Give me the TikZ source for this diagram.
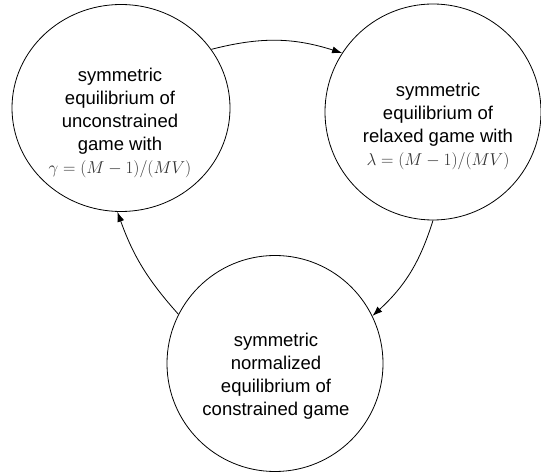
\documentclass[tikz,border=0pt]{standalone}
\usepackage{fontspec}
\setmainfont{Liberation Sans}
\usetikzlibrary{arrows.meta,shapes.geometric}
\begin{document}
\begin{tikzpicture}[>={Latex[length=10bp,width=7bp]},line join=bevel,line width=0.8bp,
  state/.style={draw,ellipse,inner sep=0pt},
  statetext/.style={align=center,inner sep=0pt,font=\fontsize{18.5bp}{23bp}\selectfont}]
\useasboundingbox (0bp,0bp) rectangle (541bp,474bp);
%%
\node (node_0) at (121.0bp,366.0bp) [state,minimum width=218bp,minimum height=207bp] {};
  \node (node_1) at (433.0bp,362.0bp) [state,minimum width=216bp,minimum height=216bp] {};
  \node (node_2) at (275.0bp,110.5bp) [state,minimum width=216bp,minimum height=216bp] {};
  \node (text_0) at (120.0bp,351.0bp) [statetext] {symmetric\\equilibrium of\\unconstrained\\game with\\{\color{black!80}\fontsize{17.5bp}{23bp}\selectfont$\gamma=(M-1)/(MV)$}};
  \node (text_1) at (438.0bp,348.0bp) [statetext] {symmetric\\equilibrium of\\relaxed game with\\{\color{black!80}\fontsize{17.5bp}{23bp}\selectfont$\lambda=(M-1)/(MV)$}};
  \node (text_2) at (276.0bp,98.0bp) [statetext] {symmetric\\normalized\\equilibrium of\\constrained game};
  \draw [black,->] (node_0.33) to[bend left=16] (node_1.147);
  \draw [black,->] (node_1.270) to[bend left=15] (node_2.26);
  \draw [black,->] (node_2.153) to[bend left=11] (node_0.268);
%
\end{tikzpicture}
\end{document}
